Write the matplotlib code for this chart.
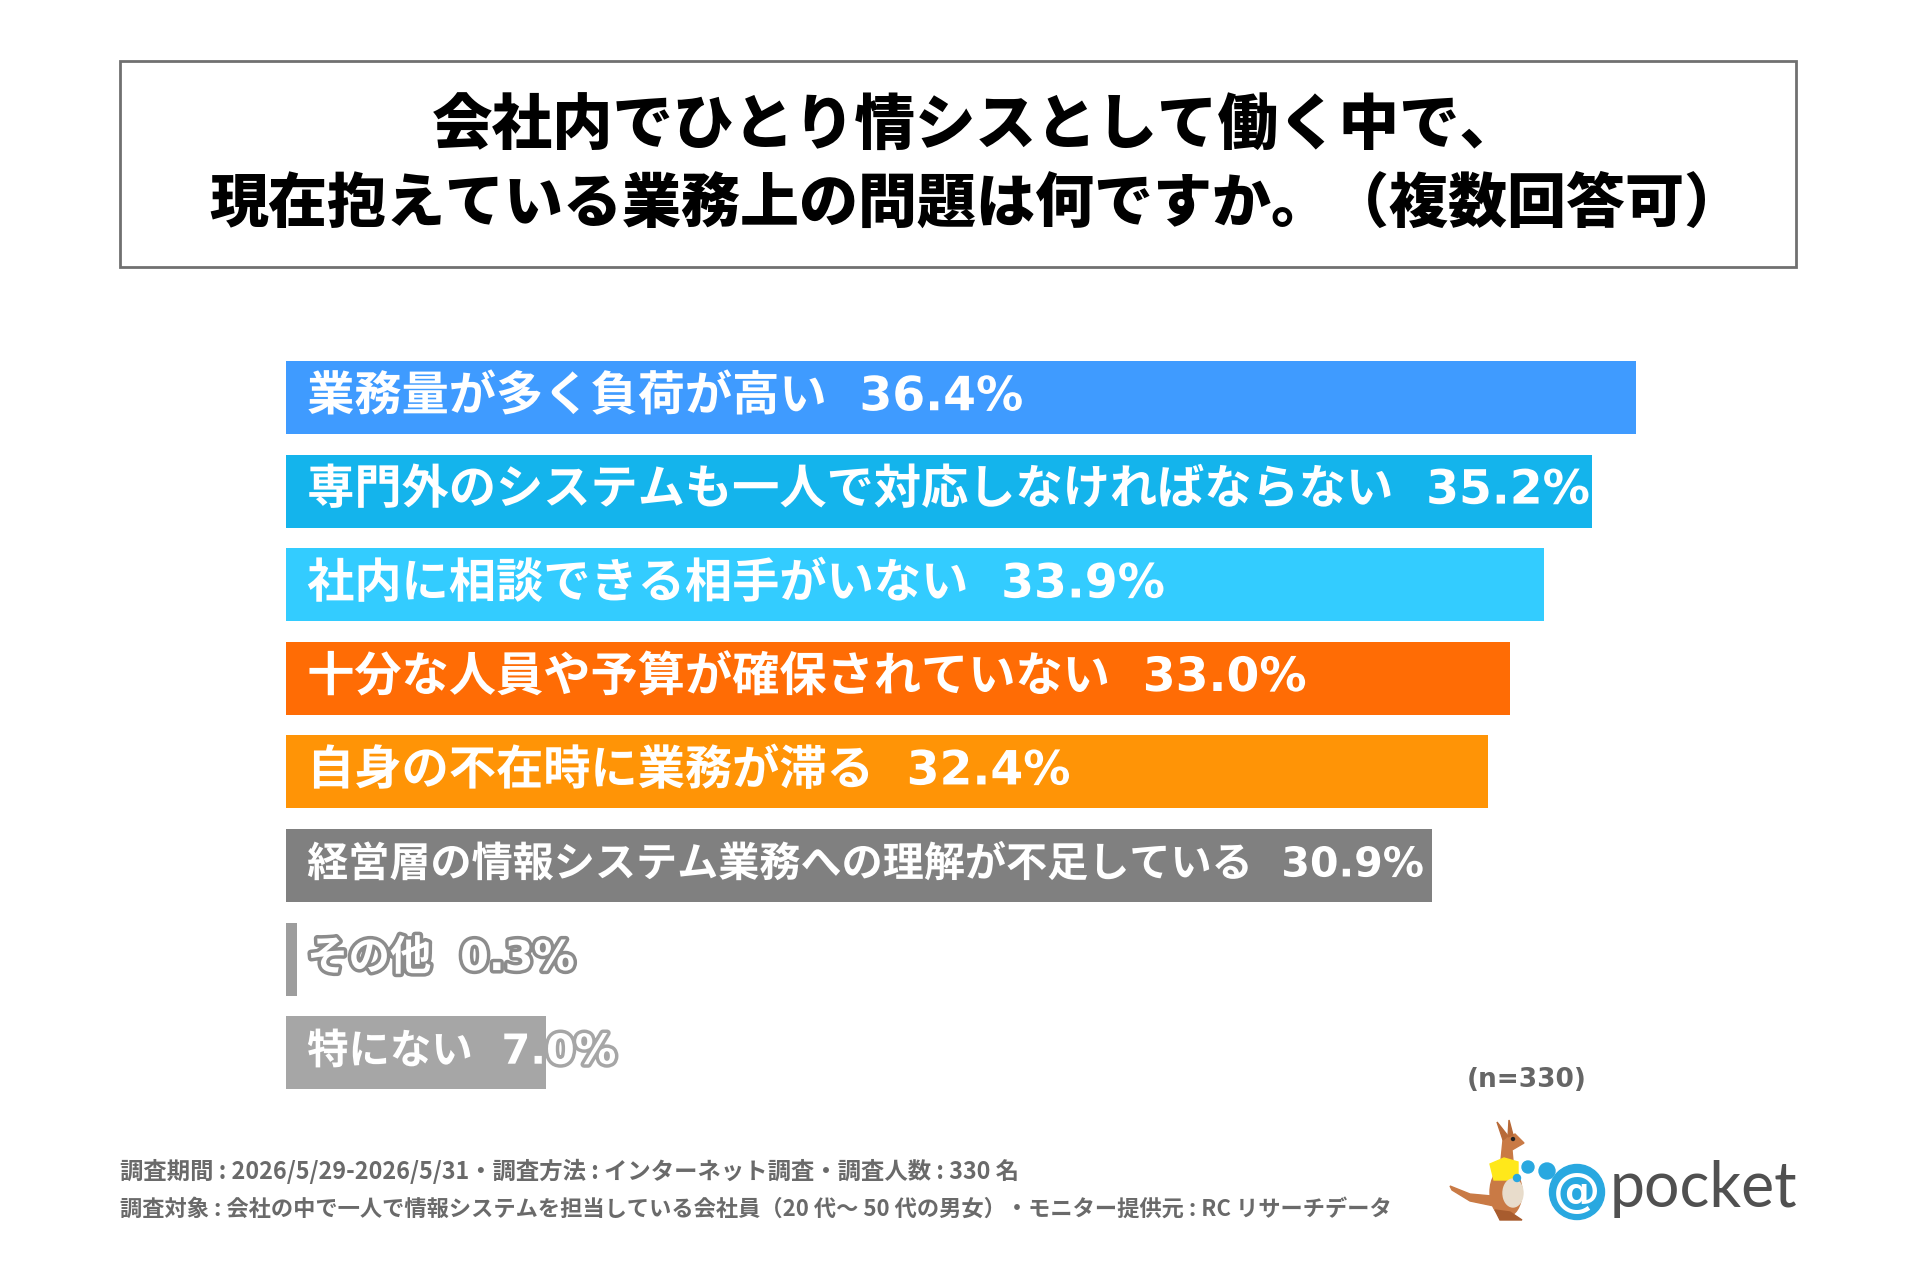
import matplotlib
matplotlib.use("Agg")
import matplotlib.pyplot as plt
import matplotlib.patheffects as pe
from matplotlib.patches import Rectangle, Circle, Polygon, Ellipse

plt.rcParams['font.family'] = ['Noto Sans CJK JP', 'DejaVu Sans']

# data
labels = [
    "業務量が多く負荷が高い",
    "専門外のシステムも一人で対応しなければならない",
    "社内に相談できる相手がいない",
    "十分な人員や予算が確保されていない",
    "自身の不在時に業務が滞る",
    "経営層の情報システム業務への理解が不足している",
    "その他",
    "特にない",
]
values = [36.4, 35.2, 33.9, 33.0, 32.4, 30.9, 0.3, 7.0]
colors = ["#3f9bff", "#14b4ec", "#33ccff", "#ff6c05", "#ff9406",
          "#808080", "#9d9d9d", "#a6a6a6"]
label_sizes = [34, 34, 34, 34, 34, 29.6, 29.8, 29.8]

title1 = "会社内でひとり情シスとして働く中で、"
title2 = "現在抱えている業務上の問題は何ですか。（複数回答可）"
note1 = "調査期間 : 2026/5/29-2026/5/31・調査方法 : インターネット調査・調査人数 : 330 名"
note2 = "調査対象 : 会社の中で一人で情報システムを担当している会社員（20 代～ 50 代の男女）・モニター提供元 : RC リサーチデータ"
n_text = "(n=330)"

W, H = 1920, 1280
fig = plt.figure(figsize=(W / 100, H / 100), dpi=100)
fig.patch.set_facecolor("white")

def fx(px):
    return px / W

def fy(py):
    return 1 - py / H

# title box
fig.patches.append(Rectangle((fx(120), fy(267)), fx(1796) - fx(120), fy(61) - fy(267),
                             transform=fig.transFigure, fill=False,
                             edgecolor="#707070", linewidth=2))
fig.text(fx(976), fy(127), title1, ha="center", va="center", fontsize=43.6,
         fontweight="heavy", color="black")
fig.text(fx(976), fy(204), title2, ha="center", va="center", fontsize=42.5,
         fontweight="heavy", color="black")

# bars
pitch = 93.6
left_px = 286
scale = 37.1  # px per %
top_px = 397.5 - pitch / 2
bottom_px = top_px + pitch * len(values)
ax = fig.add_axes([fx(left_px), fy(bottom_px), (40 * scale) / W, (bottom_px - top_px) / H])
ypos = list(range(len(values)))
ax.barh(ypos, values, height=0.78, color=colors)
ax.set_xlim(0, 40)
ax.set_ylim(len(values) - 0.5, -0.5)
ax.axis("off")

for i, (lab, v) in enumerate(zip(labels, values)):
    stroke = colors[i]
    if i == 6:
        stroke = "#8c8c8c"
    ax.text(0.57, i, lab + "  " + f"{v:.1f}%", ha="left", va="center",
            fontsize=label_sizes[i], fontweight="bold", color="white",
            family=["DejaVu Sans", "Noto Sans CJK JP"],
            path_effects=[pe.withStroke(linewidth=5, foreground=stroke)])

# notes
fig.text(fx(120), fy(1171), note1, ha="left", va="center", fontsize=16.8,
         fontweight="bold", color="#6a6a6a")
fig.text(fx(120), fy(1209), note2, ha="left", va="center", fontsize=16.0,
         fontweight="bold", color="#6a6a6a")
fig.text(fx(1527), fy(1080), n_text, ha="center", va="center", fontsize=19,
         fontweight="bold", color="#666666", family="DejaVu Sans")

# logo
lx0, lx1, ly0, ly1 = 1440, 1820, 1110, 1240
lax = fig.add_axes([fx(lx0), fy(ly1), (lx1 - lx0) / W, (ly1 - ly0) / H])
lax.set_xlim(lx0, lx1)
lax.set_ylim(ly1, ly0)
lax.axis("off")
brown = "#c97a45"
# tail
lax.add_patch(Polygon([(1492, 1196), (1470, 1194), (1450, 1186), (1452, 1190),
                       (1470, 1201), (1494, 1206)], color=brown))
# body
lax.add_patch(Ellipse((1506, 1192), 32, 50, color=brown))
# neck + head
lax.add_patch(Polygon([(1500, 1170), (1503, 1140), (1515, 1134), (1524, 1143),
                       (1512, 1150), (1514, 1172)], color=brown))
# ears
lax.add_patch(Polygon([(1503, 1140), (1497, 1122), (1508, 1136)], color="#b86a38"))
lax.add_patch(Polygon([(1508, 1137), (1509, 1120), (1513, 1135)], color="#b86a38"))
lax.add_patch(Circle((1513, 1139), 1.5, color="#222222"))
# shirt
lax.add_patch(Polygon([(1490, 1164), (1504, 1158), (1518, 1162), (1518, 1180),
                       (1494, 1180)], color="#ffe81a"))
# pouch
lax.add_patch(Ellipse((1513, 1193), 20, 28, color="#e8dccb"))
lax.add_patch(Circle((1517, 1178), 3.5, color="#29a8e0"))
# feet
lax.add_patch(Polygon([(1495, 1210), (1500, 1220), (1522, 1220), (1510, 1212)], color="#a85c2e"))
# dots and @ circle
lax.add_patch(Circle((1528, 1167), 6, color="#29a8e0"))
lax.add_patch(Circle((1547, 1171), 8, color="#29a8e0"))
lax.add_patch(Circle((1577, 1192), 27.5, color="#29a8e0"))
lax.text(1577, 1193, "@", ha="center", va="center", fontsize=34, fontweight="bold",
         color="white", family="DejaVu Sans")
lax.text(1610, 1207, "pocket", ha="left", va="baseline", fontsize=45,
         color="#505050", family="Lato")

fig.savefig("out.png", dpi=100, facecolor="white")
